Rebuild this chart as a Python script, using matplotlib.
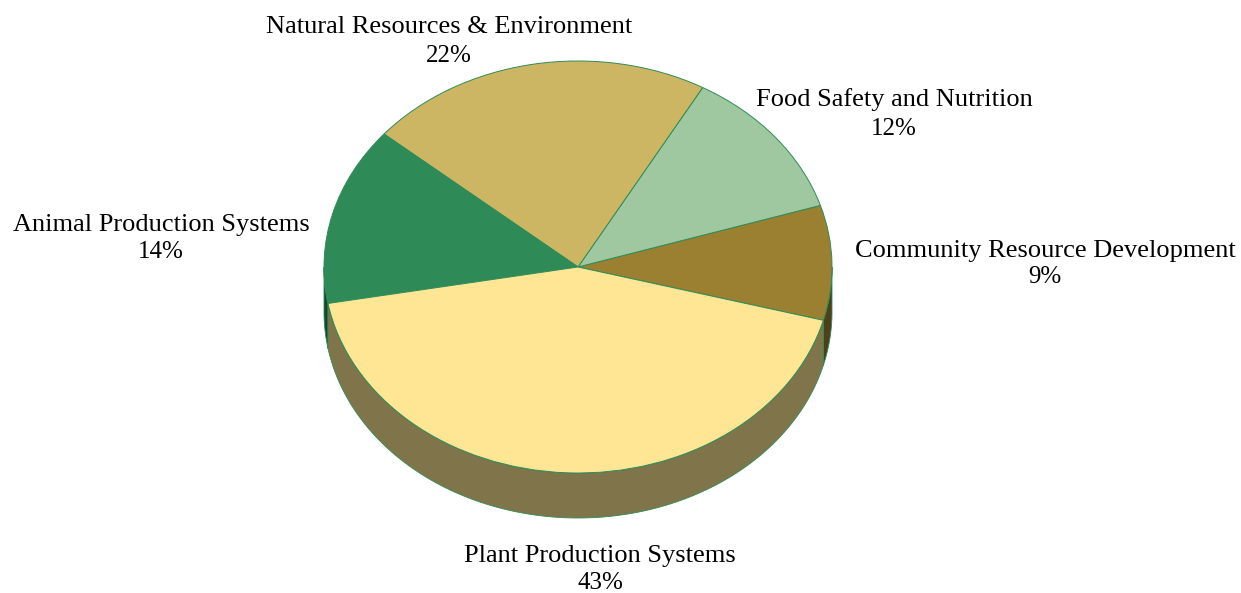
#!/usr/bin/env python
# -*- coding: utf-8 -*-
# 3D looking pie of program areas: flat pie squashed on non-equal axes + side wall

import numpy as np
import matplotlib
matplotlib.use('Agg')
import matplotlib.pyplot as plt

categories = ['Community Resource Development', 'Food Safety and Nutrition',
              'Natural Resources & Environment', 'Animal Production Systems',
              'Plant Production Systems']
shares = [9, 12, 22, 14, 43]
topColors = ['#9A8030', '#A0C8A0', '#CCB664', '#2E8B57', '#FFE694']
sideColors = ['#4D4018', '#50644F', '#665B32', '#17462C', '#80744A']

edgeColor = '#2E8B57'
startAngle = -15.
W, H = 1241, 593
cx, cy, rx, ry = 578, 267, 254, 206   # pie ellipse, in pixels
depth = 45. / ry                      # wall height in axes data units

# label centres in pixels: (x, y of the name line, y of the percent line)
labelPos = [(1045, 251, 277), (894, 100, 129), (449, 27, 56),
            (161, 225, 252), (600, 556, 583)]

plt.rcParams['font.family'] = ['Liberation Serif', 'DejaVu Serif']

fig = plt.figure(figsize=(W/100., H/100.), dpi=100)
ax = fig.add_axes([(cx-rx)/W, (H-cy-ry)/H, 2.*rx/W, 2.*ry/H])

ax.pie(shares, colors=topColors, startangle=startAngle, counterclock=True, radius=1,
       wedgeprops=dict(edgecolor=edgeColor, linewidth=0.7, zorder=3))
ax.set_aspect('auto')
ax.set_xlim(-1, 1)
ax.set_ylim(-1, 1)

# side wall, only the part of each wedge on the front half shows
edges = startAngle + 360.*np.cumsum([0] + shares)/np.sum(shares)
for k in range(len(shares)):
    for shift in [0., 360.]:
        a1 = max(edges[k]+shift, 180.)
        a2 = min(edges[k+1]+shift, 360.)
        if a2 <= a1:
            continue
        th = np.radians(np.linspace(a1, a2, 120))
        xx = np.cos(th)
        yy = np.sin(th)
        ax.fill(np.r_[xx, xx[::-1]], np.r_[yy, yy[::-1]-depth],
                facecolor=sideColors[k], edgecolor=edgeColor, linewidth=0.6,
                clip_on=False, zorder=2)

for k in range(len(shares)):
    xp, y1, y2 = labelPos[k]
    fig.text(xp/W, 1-y1/H, categories[k], ha='center', va='center',
             fontsize=19, color='black')
    fig.text(xp/W, 1-y2/H, str(shares[k])+'%', ha='center', va='center',
             fontsize=18, color='black')

fig.savefig('out.png', dpi=100)
